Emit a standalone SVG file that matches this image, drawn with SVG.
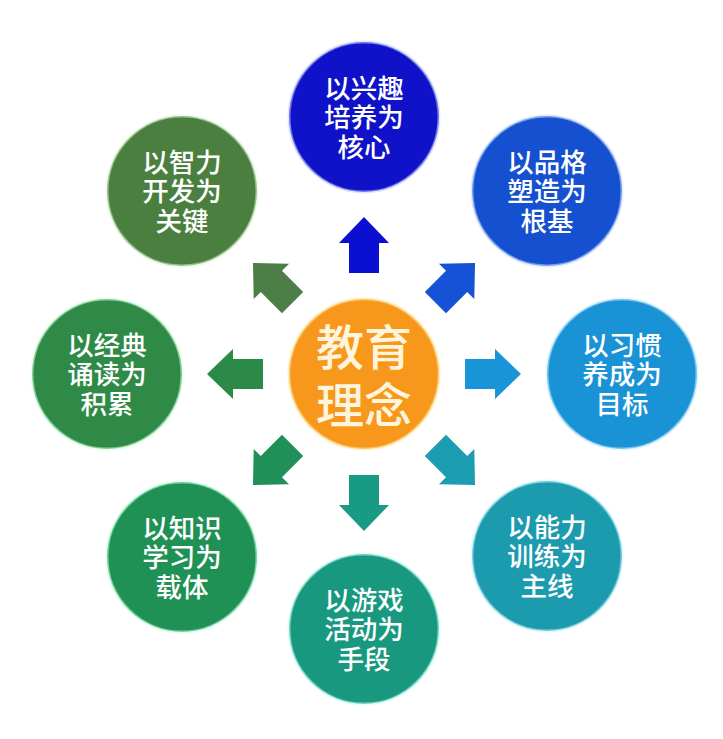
<svg xmlns="http://www.w3.org/2000/svg" width="723" height="739" viewBox="0 0 723 739">
  <style>
    .node circle { stroke-width: 3; stroke-opacity: 0.55; }
    .node text { font-family: "Liberation Serif", "Noto Sans CJK SC", sans-serif; font-weight: 500; font-size: 26.5px; fill: #ffffff; text-anchor: middle; }
    #center text { font-size: 48px; fill: #fff4dc; }
  </style>
  <defs>
    <path id="arrow" d="M-15,-101 L-15,-131 L-25,-131 L0,-157 L25,-131 L15,-131 L15,-101 Z"/>
  </defs>
  <rect width="723" height="739" fill="#ffffff"/>

  <g id="connectors" transform="translate(364,374)">
    <use href="#arrow" fill="#0b0fcf" transform="rotate(0)"/>
    <use href="#arrow" fill="#1552d6" transform="rotate(45)"/>
    <use href="#arrow" fill="#1a94d8" transform="rotate(90)"/>
    <use href="#arrow" fill="#1c9db2" transform="rotate(135)"/>
    <use href="#arrow" fill="#199a84" transform="rotate(180)"/>
    <use href="#arrow" fill="#1e9058" transform="rotate(225)"/>
    <use href="#arrow" fill="#2b8a47" transform="rotate(270)"/>
    <use href="#arrow" fill="#4e7e47" transform="rotate(315)"/>
  </g>

  <g id="center" class="node">
    <circle cx="364" cy="374" r="75" fill="#f7981c" stroke="#ffe39a"/>
    <text x="364" y="365">教育<tspan x="364" dy="58">理念</tspan></text>
  </g>

  <g id="n-top" class="node">
    <circle cx="364" cy="117" r="75" fill="#0f12c8" stroke="#c8d0ff"/>
    <text x="364" y="97.5">以兴趣<tspan x="364" dy="29.6">培养为</tspan><tspan x="364" dy="29.6">核心</tspan></text>
  </g>

  <g id="n-topright" class="node">
    <circle cx="547" cy="191" r="75" fill="#1450d0" stroke="#c8dcff"/>
    <text x="547" y="171.5">以品格<tspan x="547" dy="29.6">塑造为</tspan><tspan x="547" dy="29.6">根基</tspan></text>
  </g>

  <g id="n-right" class="node">
    <circle cx="622" cy="374" r="75" fill="#1a92d6" stroke="#c8ecff"/>
    <text x="622" y="354.5">以习惯<tspan x="622" dy="29.6">养成为</tspan><tspan x="622" dy="29.6">目标</tspan></text>
  </g>

  <g id="n-bottomright" class="node">
    <circle cx="547" cy="556" r="75" fill="#1c9aae" stroke="#c8f4ff"/>
    <text x="547" y="536.5">以能力<tspan x="547" dy="29.6">训练为</tspan><tspan x="547" dy="29.6">主线</tspan></text>
  </g>

  <g id="n-bottom" class="node">
    <circle cx="364" cy="629" r="75" fill="#18987f" stroke="#c8fff0"/>
    <text x="364" y="609.5">以游戏<tspan x="364" dy="29.6">活动为</tspan><tspan x="364" dy="29.6">手段</tspan></text>
  </g>

  <g id="n-bottomleft" class="node">
    <circle cx="182" cy="557" r="75" fill="#1f9155" stroke="#c8ffe0"/>
    <text x="182" y="537.5">以知识<tspan x="182" dy="29.6">学习为</tspan><tspan x="182" dy="29.6">载体</tspan></text>
  </g>

  <g id="n-left" class="node">
    <circle cx="107" cy="374" r="75" fill="#2e8a46" stroke="#d0ffd8"/>
    <text x="107" y="354.5">以经典<tspan x="107" dy="29.6">诵读为</tspan><tspan x="107" dy="29.6">积累</tspan></text>
  </g>

  <g id="n-topleft" class="node">
    <circle cx="182" cy="191" r="75" fill="#4b7f3f" stroke="#e0f4d8"/>
    <text x="182" y="171.5">以智力<tspan x="182" dy="29.6">开发为</tspan><tspan x="182" dy="29.6">关键</tspan></text>
  </g>
</svg>
